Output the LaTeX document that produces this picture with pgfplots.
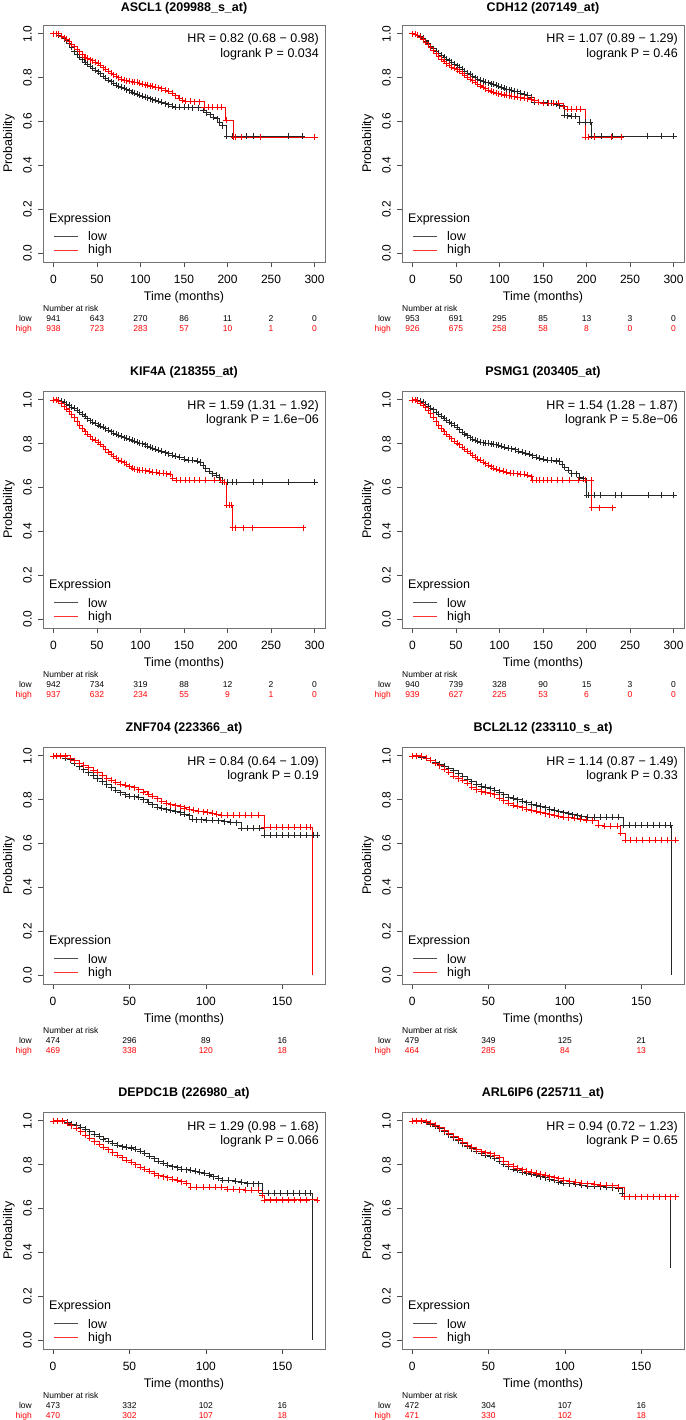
\documentclass[border=0pt]{standalone}
\usepackage{fontspec}
\setmainfont{Liberation Sans}
\usepackage{pgfplots}
\pgfplotsset{compat=1.18}
\newcommand\tk{\fontsize{12}{14}\selectfont}
\newcommand\lb{\fontsize{12.5}{15}\selectfont}
\newcommand\rf{\fontsize{8.5}{10}\selectfont}
\pgfplotsset{
  km/.style={
    scale only axis, width=282pt, height=237pt, clip=false,
    ymin=-0.04, ymax=1.04, ytick={0,0.2,0.4,0.6,0.8,1},
    axis line style={black!55, line width=0.7pt},
    every tick/.style={black!70, line width=0.6pt},
    tick align=outside, major tick length=5pt,
    xtick pos=bottom, ytick pos=left,
    /pgf/number format/assume math mode=true,
    ticklabel style={font=\tk, inner sep=0pt},
    yticklabel style={rotate=90, anchor=south, /pgf/number format/.cd, fixed, fixed zerofill, precision=1},
    xticklabel style={anchor=north},
    xticklabel shift=8pt, yticklabel shift=6pt,
    xlabel={Time (months)}, ylabel={Probability},
    label style={font=\lb},
    xlabel style={at={([yshift=-35.5pt]rel axis cs:0.5,0)}, anchor=center},
    ylabel style={at={([xshift=-34pt]rel axis cs:0,0.5)}, anchor=center},
    title style={at={([yshift=9.5pt]rel axis cs:0.5,1)}, anchor=base, font=\lb\bfseries},
  },
  k300/.style={km, xmin=-12, xmax=312, xtick={0,50,100,150,200,250,300}},
  k170/.style={km, xmin=-6.6, xmax=178, xtick={0,50,100,150}},
  lo/.style={black!85, line width=0.6pt, const plot, mark=+, mark size=3pt, mark options={line width=0.55pt}},
  hi/.style={red, line width=0.6pt, const plot, mark=+, mark size=3pt, mark options={line width=0.55pt}},
  dr/.style={const plot, no marks, line width=0.6pt},
}
\newcommand\leg{%
  \node[anchor=base west, font=\lb, inner sep=0pt] at ([xshift=6pt,yshift=39.5pt]rel axis cs:0,0) {Expression};
  \draw[black!70, line width=0.6pt] ([xshift=11pt,yshift=26pt]rel axis cs:0,0) -- ++(24pt,0pt);
  \draw[red!80, line width=0.6pt] ([xshift=11pt,yshift=12pt]rel axis cs:0,0) -- ++(24pt,0pt);
  \node[anchor=base west, font=\lb, inner sep=0pt] at ([xshift=45pt,yshift=21pt]rel axis cs:0,0) {low};
  \node[anchor=base west, font=\lb, inner sep=0pt] at ([xshift=45pt,yshift=8pt]rel axis cs:0,0) {high};}
\newcommand\hr[2]{%
  \node[anchor=base east, font=\lb, inner sep=0pt] at ([xshift=-6pt,yshift=-18pt]rel axis cs:1,1) {HR = #1};
  \node[anchor=base east, font=\lb, inner sep=0pt] at ([xshift=-6pt,yshift=-32.5pt]rel axis cs:1,1) {logrank P = #2};}
\newcommand\rkhead{%
  \node[anchor=base west, font=\rf, inner sep=0pt] at ([yshift=-49pt]rel axis cs:0,0) {Number at risk};
  \node[anchor=base east, font=\rf, inner sep=0pt] at ([xshift=-11pt,yshift=-59pt]rel axis cs:0,0) {low};
  \node[anchor=base east, font=\rf, inner sep=0pt, red] at ([xshift=-11pt,yshift=-69pt]rel axis cs:0,0) {high};}
\newcommand\rk[3]{%
  \node[anchor=base, font=\rf, inner sep=0pt] at ([yshift=-59pt]axis cs:#1,-0.04) {#2};
  \node[anchor=base, font=\rf, inner sep=0pt, red] at ([yshift=-69pt]axis cs:#1,-0.04) {#3};}
\begin{document}
\begin{tikzpicture}
\useasboundingbox (0pt,0pt) rectangle (685pt,-1420pt);
% ---------------- ASCL1
\begin{axis}[k300, at={(43pt,-25pt)}, anchor=north west, title={ASCL1 (209988\_s\_at)}, title style={at={([yshift=7.5pt]rel axis cs:0.5,1)}}]
\addplot[lo] coordinates {(0,1)(3,1)(6,0.995)(9,0.99)(12,0.978)(15,0.97)(18,0.955)(21,0.94)(24,0.922)(27,0.908)(30,0.895)(33,0.882)(36,0.87)(39,0.861)(42,0.852)(45,0.843)(48,0.835)(51,0.828)(54,0.818)(57,0.808)(60,0.798)(63,0.79)(66,0.782)(69,0.774)(72,0.767)(75,0.761)(78,0.756)(81,0.751)(84,0.746)(87,0.741)(90,0.735)(93,0.729)(96,0.724)(99,0.72)(102,0.716)(105,0.712)(108,0.709)(111,0.705)(114,0.7)(117,0.697)(120,0.693)(124,0.688)(128,0.682)(132,0.677)(136,0.671)(140,0.667)(145,0.666)(150,0.666)(155,0.665)(160,0.664)(166,0.663)(172,0.652)(176,0.641)(180,0.632)(184,0.62)(188,0.613)(191,0.598)(194,0.582)(199,0.535)(206,0.535)(221,0.535)(230,0.535)(270,0.535)(286,0.535)};
\addplot[hi] coordinates {(0,1)(3,1)(6,1)(9,0.99)(12,0.982)(15,0.977)(18,0.965)(21,0.953)(24,0.942)(27,0.93)(30,0.918)(33,0.907)(36,0.895)(39,0.888)(42,0.882)(45,0.877)(48,0.872)(51,0.866)(54,0.856)(57,0.846)(60,0.838)(63,0.83)(66,0.822)(69,0.814)(72,0.807)(75,0.8)(78,0.794)(81,0.79)(84,0.787)(87,0.784)(90,0.782)(93,0.781)(96,0.779)(99,0.776)(102,0.772)(105,0.768)(108,0.765)(111,0.763)(114,0.76)(117,0.757)(120,0.754)(124,0.75)(128,0.744)(132,0.737)(136,0.728)(140,0.718)(144,0.706)(148,0.698)(152,0.693)(157,0.692)(162,0.691)(167,0.691)(173,0.666)(178,0.666)(183,0.666)(188,0.666)(193,0.666)(198,0.605)(207,0.529)(209,0.529)(216,0.529)(238,0.529)(300,0.529)};
\leg \hr{0.82 (0.68 − 0.98)}{0.034}
\rkhead \rk{0}{941}{938}\rk{50}{643}{723}\rk{100}{270}{283}\rk{150}{86}{57}\rk{200}{11}{10}\rk{250}{2}{1}\rk{300}{0}{0}
\end{axis}
% ---------------- CDH12
\begin{axis}[k300, at={(402pt,-25pt)}, anchor=north west, title={CDH12 (207149\_at)}, title style={at={([yshift=7.5pt]rel axis cs:0.5,1)}}]
\addplot[lo] coordinates {(0,1)(3,0.998)(6,0.994)(9,0.988)(12,0.979)(15,0.968)(18,0.956)(21,0.944)(24,0.932)(27,0.921)(30,0.912)(33,0.903)(36,0.894)(39,0.885)(42,0.878)(45,0.87)(48,0.862)(51,0.855)(54,0.847)(57,0.838)(60,0.83)(63,0.822)(66,0.815)(69,0.807)(72,0.8)(75,0.794)(78,0.789)(81,0.785)(84,0.781)(87,0.777)(90,0.773)(93,0.769)(96,0.765)(99,0.761)(102,0.757)(105,0.753)(108,0.749)(111,0.745)(114,0.742)(117,0.739)(120,0.736)(124,0.731)(128,0.726)(132,0.72)(136,0.71)(140,0.69)(145,0.687)(150,0.686)(155,0.685)(160,0.684)(165,0.68)(169,0.673)(174,0.628)(178,0.627)(182,0.626)(187,0.625)(192,0.597)(198,0.597)(204,0.597)(206,0.533)(209,0.533)(217,0.533)(230,0.533)(270,0.533)(286,0.533)(300,0.533)};
\addplot[hi] coordinates {(0,1)(3,0.998)(6,0.993)(9,0.985)(12,0.975)(15,0.962)(18,0.95)(21,0.937)(24,0.924)(27,0.91)(30,0.896)(33,0.884)(36,0.874)(39,0.864)(42,0.856)(45,0.849)(48,0.842)(51,0.836)(54,0.83)(57,0.821)(60,0.812)(63,0.802)(66,0.794)(69,0.786)(72,0.778)(75,0.77)(78,0.763)(81,0.756)(84,0.75)(87,0.744)(90,0.739)(93,0.734)(96,0.73)(99,0.727)(102,0.724)(105,0.722)(108,0.72)(111,0.718)(114,0.716)(117,0.714)(120,0.712)(124,0.709)(128,0.707)(132,0.705)(136,0.702)(140,0.697)(145,0.69)(150,0.685)(156,0.685)(162,0.685)(168,0.685)(173,0.67)(178,0.658)(183,0.658)(188,0.658)(193,0.658)(198.5,0.529)(202,0.529)(209,0.529)(228,0.529)(240,0.529)};
\leg \hr{1.07 (0.89 − 1.29)}{0.46}
\rkhead \rk{0}{953}{926}\rk{50}{691}{675}\rk{100}{295}{258}\rk{150}{85}{58}\rk{200}{13}{8}\rk{250}{3}{0}\rk{300}{0}{0}
\end{axis}
% ---------------- KIF4A
\begin{axis}[k300, at={(43pt,-391pt)}, anchor=north west, title={KIF4A (218355\_at)}]
\addplot[lo] coordinates {(0,1)(3,1)(6,0.997)(9,0.993)(12,0.988)(15,0.981)(18,0.974)(21,0.968)(24,0.962)(27,0.953)(30,0.943)(33,0.933)(36,0.924)(39,0.914)(42,0.905)(45,0.899)(48,0.893)(51,0.886)(54,0.88)(57,0.874)(60,0.868)(63,0.862)(66,0.855)(69,0.849)(72,0.843)(75,0.838)(78,0.833)(81,0.828)(84,0.824)(87,0.82)(90,0.816)(93,0.812)(96,0.808)(99,0.803)(102,0.8)(105,0.796)(108,0.79)(111,0.785)(114,0.78)(117,0.776)(120,0.771)(124,0.765)(128,0.759)(132,0.754)(136,0.749)(140,0.744)(145,0.737)(150,0.73)(155,0.726)(160,0.724)(165,0.72)(169,0.716)(172,0.7)(175,0.686)(179,0.675)(183,0.664)(187,0.657)(190,0.648)(194,0.626)(200,0.626)(205,0.626)(210,0.626)(230,0.626)(240,0.626)(270,0.626)(300,0.626)};
\addplot[hi] coordinates {(0,1)(3,1)(6,0.993)(9,0.982)(12,0.97)(15,0.959)(18,0.946)(21,0.933)(24,0.918)(27,0.9)(30,0.885)(33,0.87)(36,0.855)(39,0.843)(42,0.832)(45,0.822)(48,0.815)(51,0.808)(54,0.798)(57,0.786)(60,0.775)(63,0.763)(66,0.752)(69,0.743)(72,0.733)(75,0.726)(78,0.72)(81,0.714)(84,0.708)(87,0.698)(90,0.689)(93,0.685)(96,0.682)(99,0.68)(102,0.679)(106,0.677)(110,0.674)(114,0.671)(118,0.669)(122,0.667)(126,0.665)(130,0.664)(134,0.662)(137,0.644)(141,0.633)(146,0.633)(151,0.633)(156,0.633)(162,0.633)(168,0.633)(175,0.633)(185,0.633)(192,0.633)(196,0.626)(199,0.52)(202,0.52)(204,0.52)(206,0.417)(209,0.417)(218,0.417)(228,0.417)(287,0.417)};
\leg \hr{1.59 (1.31 − 1.92)}{1.6e−06}
\rkhead \rk{0}{942}{937}\rk{50}{734}{632}\rk{100}{319}{234}\rk{150}{88}{55}\rk{200}{12}{9}\rk{250}{2}{1}\rk{300}{0}{0}
\end{axis}
% ---------------- PSMG1
\begin{axis}[k300, at={(402pt,-391pt)}, anchor=north west, title={PSMG1 (203405\_at)}]
\addplot[lo] coordinates {(0,1)(3,1)(6,0.997)(9,0.993)(12,0.988)(15,0.98)(18,0.972)(21,0.963)(24,0.955)(27,0.945)(30,0.935)(33,0.924)(36,0.915)(39,0.906)(42,0.898)(45,0.891)(48,0.883)(51,0.874)(54,0.864)(57,0.853)(60,0.845)(63,0.836)(66,0.828)(69,0.822)(72,0.817)(75,0.812)(78,0.807)(81,0.805)(84,0.803)(87,0.802)(90,0.8)(93,0.798)(96,0.796)(99,0.793)(102,0.789)(106,0.785)(110,0.781)(114,0.777)(118,0.773)(122,0.767)(126,0.761)(130,0.756)(134,0.751)(138,0.746)(142,0.74)(146,0.735)(150,0.73)(155,0.726)(160,0.724)(165,0.722)(169,0.72)(172,0.705)(175,0.694)(179,0.68)(183,0.664)(188,0.664)(192,0.648)(196,0.641)(200,0.565)(202,0.565)(209,0.565)(216,0.565)(233,0.565)(240,0.565)(271,0.565)(286,0.565)(300,0.565)};
\addplot[hi] coordinates {(0,1)(3,1)(6,0.995)(9,0.985)(12,0.975)(15,0.967)(18,0.952)(21,0.937)(24,0.92)(27,0.9)(30,0.884)(33,0.869)(36,0.855)(39,0.843)(42,0.832)(45,0.823)(48,0.813)(51,0.803)(54,0.795)(57,0.785)(60,0.774)(63,0.765)(66,0.756)(69,0.747)(72,0.739)(75,0.731)(78,0.724)(81,0.716)(84,0.709)(87,0.702)(90,0.695)(93,0.689)(96,0.684)(100,0.679)(104,0.674)(108,0.67)(112,0.667)(116,0.665)(120,0.664)(124,0.662)(128,0.66)(132,0.657)(136,0.65)(138,0.633)(142,0.633)(146,0.633)(150,0.633)(155,0.633)(160,0.633)(166,0.633)(172,0.633)(180,0.633)(190,0.633)(198,0.633)(205,0.633)(206,0.508)(215,0.508)(230,0.508)};
\leg \hr{1.54 (1.28 − 1.87)}{5.8e−06}
\rkhead \rk{0}{940}{939}\rk{50}{739}{627}\rk{100}{328}{225}\rk{150}{90}{53}\rk{200}{15}{6}\rk{250}{3}{0}\rk{300}{0}{0}
\end{axis}
% ---------------- ZNF704
\begin{axis}[k170, at={(43pt,-747pt)}, anchor=north west, title={ZNF704 (223366\_at)}]
\addplot[lo] coordinates {(0,1)(2,1)(5,0.997)(8,0.99)(11,0.983)(14,0.965)(17,0.95)(20,0.937)(23,0.923)(26,0.91)(29,0.896)(32,0.882)(35,0.868)(38,0.855)(41,0.843)(44,0.832)(47,0.823)(50,0.817)(53,0.814)(56,0.81)(59,0.8)(62,0.789)(65,0.777)(68,0.766)(71,0.76)(74,0.755)(77,0.752)(80,0.747)(83,0.741)(86,0.734)(89,0.727)(91,0.71)(94,0.709)(97,0.709)(100,0.708)(104,0.707)(108,0.705)(112,0.7)(116,0.698)(120,0.695)(123,0.669)(127,0.669)(131,0.669)(135,0.669)(138,0.638)(142,0.638)(146,0.638)(150,0.638)(154,0.638)(158,0.638)(162,0.638)(166,0.638)(170,0.638)(173,0.638)};
\addplot[hi] coordinates {(0,1)(2,1)(5,1)(8,1)(11,0.987)(14,0.978)(17,0.968)(20,0.956)(23,0.946)(26,0.936)(29,0.925)(32,0.91)(35,0.898)(38,0.888)(41,0.879)(44,0.872)(47,0.866)(50,0.86)(53,0.855)(56,0.846)(59,0.836)(62,0.825)(65,0.815)(68,0.805)(71,0.794)(74,0.785)(77,0.778)(80,0.773)(83,0.768)(86,0.763)(89,0.757)(92,0.752)(95,0.748)(98,0.745)(101,0.742)(104,0.738)(107,0.734)(110,0.729)(114,0.729)(118,0.729)(122,0.729)(126,0.729)(130,0.729)(134,0.729)(138,0.676)(142,0.676)(146,0.676)(150,0.676)(154,0.676)(158,0.676)(162,0.676)(166,0.676)(168.5,0.676)};
\addplot[dr, red] coordinates {(168.5,0.676)(169.7,0)};
\leg \hr{0.84 (0.64 − 1.09)}{0.19}
\rkhead \rk{0}{474}{469}\rk{50}{296}{338}\rk{100}{89}{120}\rk{150}{16}{18}
\end{axis}
% ---------------- BCL2L12
\begin{axis}[k170, at={(402pt,-747pt)}, anchor=north west, title={BCL2L12 (233110\_s\_at)}]
\addplot[lo] coordinates {(0,1)(3,1)(6,0.995)(9,0.99)(12,0.98)(15,0.972)(18,0.963)(21,0.953)(24,0.942)(27,0.932)(30,0.921)(33,0.908)(36,0.894)(39,0.882)(42,0.871)(45,0.862)(48,0.856)(51,0.85)(54,0.845)(57,0.834)(60,0.823)(63,0.813)(66,0.806)(69,0.8)(72,0.793)(75,0.786)(78,0.779)(81,0.774)(84,0.769)(87,0.764)(90,0.758)(93,0.752)(96,0.745)(99,0.741)(102,0.737)(105,0.732)(108,0.727)(111,0.723)(115,0.719)(119,0.719)(123,0.719)(127,0.719)(131,0.719)(135,0.719)(138,0.684)(142,0.684)(146,0.684)(150,0.684)(154,0.684)(158,0.684)(162,0.684)(166,0.684)(169,0.684)};
\addplot[dr, black!85] coordinates {(169,0.684)(169.9,0)};
\addplot[hi] coordinates {(0,1)(3,1)(6,0.997)(9,0.99)(12,0.98)(15,0.968)(18,0.955)(21,0.94)(24,0.925)(27,0.908)(30,0.896)(33,0.888)(36,0.874)(39,0.857)(42,0.846)(45,0.837)(48,0.833)(51,0.828)(54,0.823)(57,0.808)(60,0.795)(63,0.783)(66,0.775)(69,0.769)(72,0.764)(75,0.758)(78,0.752)(81,0.747)(84,0.742)(87,0.737)(90,0.732)(93,0.728)(96,0.724)(99,0.721)(102,0.718)(106,0.715)(110,0.71)(114,0.707)(118,0.704)(122,0.684)(126,0.678)(130,0.678)(134,0.678)(136.5,0.646)(139.5,0.616)(143,0.616)(147,0.616)(151,0.616)(155,0.616)(159,0.616)(163,0.616)(167,0.616)(172.5,0.616)};
\leg \hr{1.14 (0.87 − 1.49)}{0.33}
\rkhead \rk{0}{479}{464}\rk{50}{349}{285}\rk{100}{125}{84}\rk{150}{21}{13}
\end{axis}
% ---------------- DEPDC1B
\begin{axis}[k170, at={(43pt,-1112pt)}, anchor=north west, title={DEPDC1B (226980\_at)}]
\addplot[lo] coordinates {(0,1)(3,1)(6,1)(9,0.993)(12,0.986)(15,0.979)(18,0.971)(21,0.961)(24,0.95)(27,0.94)(30,0.929)(33,0.918)(36,0.908)(39,0.898)(42,0.889)(45,0.882)(48,0.879)(51,0.877)(54,0.871)(57,0.862)(60,0.851)(63,0.838)(66,0.828)(69,0.816)(72,0.806)(75,0.799)(78,0.791)(81,0.786)(84,0.781)(87,0.777)(90,0.774)(93,0.77)(96,0.767)(99,0.761)(102,0.754)(105,0.746)(108,0.738)(111,0.73)(115,0.728)(119,0.725)(123,0.72)(127,0.713)(131,0.713)(134,0.713)(137,0.671)(141,0.671)(145,0.671)(149,0.671)(153,0.671)(157,0.671)(161,0.671)(165,0.671)(168.5,0.671)};
\addplot[dr, black!85] coordinates {(168.5,0.671)(169.7,0)};
\addplot[hi] coordinates {(0,1)(3,1)(6,1)(9,0.99)(12,0.978)(15,0.966)(18,0.951)(21,0.936)(24,0.92)(27,0.905)(30,0.892)(33,0.88)(36,0.868)(39,0.855)(42,0.843)(45,0.832)(48,0.822)(51,0.812)(54,0.8)(57,0.789)(60,0.779)(63,0.769)(66,0.759)(69,0.75)(72,0.745)(75,0.741)(78,0.735)(81,0.729)(84,0.723)(87,0.715)(90,0.698)(94,0.698)(98,0.698)(102,0.698)(106,0.698)(110,0.697)(114,0.69)(118,0.687)(122,0.686)(126,0.685)(130,0.684)(134,0.683)(137,0.66)(138,0.64)(142,0.64)(146,0.64)(150,0.64)(154,0.64)(158,0.64)(162,0.64)(166,0.64)(173,0.64)};
\leg \hr{1.29 (0.98 − 1.68)}{0.066}
\rkhead \rk{0}{473}{470}\rk{50}{332}{302}\rk{100}{102}{107}\rk{150}{16}{18}
\end{axis}
% ---------------- ARL6IP6
\begin{axis}[k170, at={(402pt,-1112pt)}, anchor=north west, title={ARL6IP6 (225711\_at)}]
\addplot[lo] coordinates {(0,1)(3,1)(6,1)(9,0.993)(12,0.984)(15,0.974)(18,0.964)(21,0.951)(24,0.937)(27,0.923)(30,0.909)(33,0.896)(36,0.884)(39,0.873)(42,0.863)(45,0.853)(48,0.845)(51,0.838)(54,0.83)(57,0.816)(60,0.802)(63,0.791)(66,0.781)(69,0.774)(72,0.767)(75,0.761)(78,0.756)(81,0.751)(84,0.746)(87,0.741)(90,0.735)(93,0.729)(96,0.722)(99,0.716)(103,0.713)(107,0.71)(111,0.707)(115,0.703)(119,0.701)(123,0.7)(127,0.698)(131,0.696)(135,0.691)(137.5,0.668)(138.6,0.655)(142,0.655)(146,0.655)(150,0.655)(154,0.655)(158,0.655)(162,0.655)(166,0.655)};
\addplot[dr, black!85, mark=+, mark size=3pt, mark indices={2}] coordinates {(166,0.655)(169.2,0.489)(169.3,0.329)};
\addplot[hi] coordinates {(0,1)(3,1)(6,1)(9,0.996)(12,0.99)(15,0.98)(18,0.969)(21,0.955)(24,0.943)(27,0.931)(30,0.918)(33,0.903)(36,0.89)(39,0.879)(42,0.869)(45,0.86)(48,0.855)(51,0.85)(54,0.845)(57,0.832)(60,0.817)(63,0.803)(66,0.792)(69,0.784)(72,0.777)(75,0.772)(78,0.767)(81,0.762)(84,0.757)(87,0.752)(90,0.746)(93,0.741)(96,0.736)(99,0.731)(103,0.726)(107,0.721)(111,0.717)(115,0.713)(119,0.71)(123,0.708)(127,0.706)(131,0.704)(135,0.699)(138.6,0.655)(142,0.655)(146,0.655)(150,0.655)(154,0.655)(158,0.655)(162,0.655)(166,0.655)(169,0.655)(172.5,0.655)};
\leg \hr{0.94 (0.72 − 1.23)}{0.65}
\rkhead \rk{0}{472}{471}\rk{50}{304}{330}\rk{100}{107}{102}\rk{150}{16}{18}
\end{axis}
\end{tikzpicture}
\end{document}
